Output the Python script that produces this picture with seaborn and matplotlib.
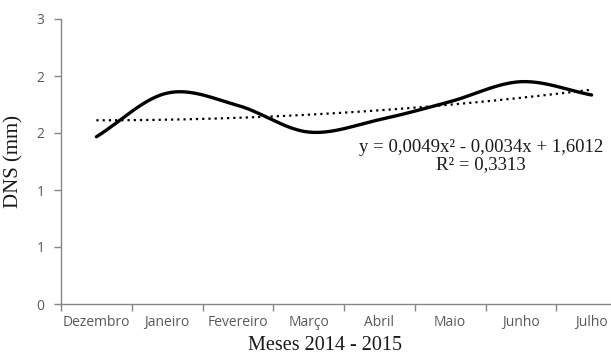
import numpy as np
import pandas as pd
import matplotlib
matplotlib.use("Agg")
import matplotlib.pyplot as plt
import seaborn as sns
from matplotlib.ticker import FixedLocator, FuncFormatter

# ---- data ----
months = ["Dezembro", "Janeiro", "Fevereiro", "Março", "Abril", "Maio", "Junho", "Julho"]
dns = [1.76, 2.22, 2.09, 1.81, 1.94, 2.13, 2.34, 2.20]
trend = [1.93, 1.94, 1.97, 1.99, 2.04, 2.09, 2.17, 2.26]
y_ticks = [0, 0.6, 1.2, 1.8, 2.4, 3.0]
equation = "y = 0,0049x² - 0,0034x + 1,6012\nR² = 0,3313"
x_label = "Meses 2014 - 2015"
y_label = "DNS (mm)"

sns.set_theme(style="white")
plt.rcParams["font.family"] = ["Open Sans", "DejaVu Sans"]


def catmull_rom(x, y, n=40):
    x = np.asarray(x, float)
    y = np.asarray(y, float)
    px = np.concatenate([[2 * x[0] - x[1]], x, [2 * x[-1] - x[-2]]])
    py = np.concatenate([[2 * y[0] - y[1]], y, [2 * y[-1] - y[-2]]])
    xs, ys = [], []
    for i in range(1, len(px) - 2):
        t = np.linspace(0, 1, n, endpoint=(i == len(px) - 3))
        for arr, out in ((px, xs), (py, ys)):
            p0, p1, p2, p3 = arr[i - 1], arr[i], arr[i + 1], arr[i + 2]
            out.append(0.5 * ((2 * p1) + (-p0 + p2) * t
                              + (2 * p0 - 5 * p1 + 4 * p2 - p3) * t ** 2
                              + (-p0 + 3 * p1 - 3 * p2 + p3) * t ** 3))
    return np.concatenate(xs), np.concatenate(ys)


pos = np.arange(len(months))
sx, sy = catmull_rom(pos, dns)
tcoef = np.polyfit(pos, trend, 2)
tx = np.linspace(pos[0], pos[-1], 200)
ty = np.polyval(tcoef, tx)

fig = plt.figure(figsize=(6.11, 3.59), dpi=100)
ax = fig.add_axes([61 / 611, 55 / 359, 566 / 611, 285 / 359])

sns.lineplot(x=sx, y=sy, ax=ax, color="black", linewidth=2.4, sort=False)
sns.lineplot(x=tx, y=ty, ax=ax, color="black", linewidth=1.6,
             linestyle=(0, (1.0, 1.8)), sort=False)

ax.set_xlim(-0.5, len(months) - 0.5)
ax.set_ylim(0, 3)

ax.yaxis.set_major_locator(FixedLocator(y_ticks))
ax.yaxis.set_major_formatter(FuncFormatter(lambda v, p: f"{v:.0f}"))
ax.set_xticks(pos)
ax.set_xticklabels(months)
ax.set_xticks(np.arange(-0.5, len(months) + 0.5, 1), minor=True)

gray = "#868686"
for s in ["top", "right"]:
    ax.spines[s].set_visible(False)
for s in ["left", "bottom"]:
    ax.spines[s].set_color(gray)
    ax.spines[s].set_linewidth(1.0)

ax.tick_params(axis="x", which="major", length=0, pad=8, labelsize=10, labelcolor="#595959")
ax.tick_params(axis="x", which="minor", length=5, width=1, color=gray, direction="out", bottom=True)
ax.tick_params(axis="y", which="major", length=5, width=1, color=gray, direction="out",
               left=True, pad=7, labelsize=10, labelcolor="#595959")

serif = ["Liberation Serif", "DejaVu Serif"]
ax.set_ylabel(y_label, fontsize=15, family=serif, color="#1a1a1a")
ax.yaxis.set_label_coords(-(61 - 23) / 566, 0.5)
ax.set_xlabel(x_label, fontsize=14.5, family=serif, color="#1a1a1a")
ax.xaxis.set_label_coords((325 - 61) / 566, -(346 - 304) / 285)
ax.xaxis.label.set_va("center")

ax.text((481 - 61) / 566, (304 - 156) / 285, equation, transform=ax.transAxes,
        ha="center", va="center", multialignment="center", fontsize=13.5,
        family=serif, color="#1a1a1a", linespacing=1.0)

ax.grid(False)
fig.savefig("out.png", dpi=100, facecolor="white")
